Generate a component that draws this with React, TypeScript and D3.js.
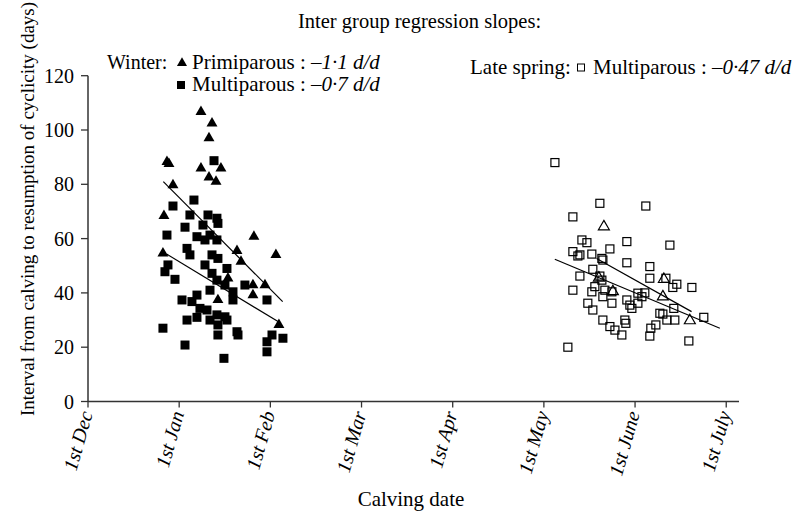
import React from "react";
import * as d3 from "d3";

// Month index: 0 = 1st Dec, 1 = 1st Jan, ... 7 = 1st July
const monthLabels = ["1st Dec", "1st Jan", "1st Feb", "1st Mar", "1st Apr", "1st May", "1st June", "1st July"];
const dayTicks = [0, 20, 40, 60, 80, 100, 120];

// Winter calving, primiparous cows: [month index, days to resumption]
const winterPrimiparous: [number, number][] = [
  [0.866, 88.3], [0.888, 87.5], [0.932, 79.7], [0.833, 68.4], [0.822, 54.6],
  [1.239, 106.7], [1.36, 102.5], [1.327, 97], [1.239, 85.9], [1.458, 85.9],
  [1.327, 82.6], [1.404, 81], [1.82, 60.7], [1.634, 55.5], [2.061, 54],
  [1.678, 51.5], [1.535, 45.4], [1.809, 42.9], [1.941, 42.9], [1.809, 39.2],
  [1.425, 37.4], [2.094, 28.2],
];

// Winter calving, multiparous cows
const winterMultiparous: [number, number][] = [
  [1.382, 88.7], [1.162, 74.2], [0.932, 72], [1.118, 68.7], [1.316, 68.7],
  [1.414, 67.5], [1.425, 65.6], [1.064, 64.2], [1.261, 65], [0.866, 61.3],
  [1.195, 60.7], [1.338, 61.3], [1.283, 59.5], [1.414, 59.5], [1.086, 56.4],
  [1.118, 54], [1.36, 54], [1.425, 52.7], [0.877, 50.3], [1.283, 50.3],
  [1.524, 49], [0.844, 47.8], [1.36, 47.2], [0.954, 45], [1.414, 44.7],
  [1.721, 42.9], [1.502, 42.9], [1.59, 40.4], [1.338, 41], [1.195, 39.2],
  [1.031, 37.4], [1.963, 37.4], [1.14, 36.8], [1.59, 37.4], [1.228, 34.3],
  [1.305, 33.7], [1.414, 31.9], [1.502, 31.2], [1.086, 30], [1.195, 31],
  [1.338, 30], [1.524, 30], [1.425, 28.2], [0.822, 27], [1.634, 25.7],
  [1.645, 24.5], [2.018, 24.5], [2.138, 23.3], [1.963, 22], [1.425, 24.5],
  [1.064, 20.8], [1.963, 18.3], [1.491, 15.9],
];

// Late spring calving, multiparous cows
const springMultiparous: [number, number][] = [
  [5.121, 88], [5.614, 73], [6.118, 72], [5.318, 68], [5.417, 59.5],
  [5.472, 58.5], [5.91, 58.9], [6.382, 57.6], [5.724, 56.2], [5.318, 55.2],
  [5.526, 54.3], [5.373, 53.6], [5.636, 52.7], [5.395, 54], [5.647, 52.1],
  [5.91, 51.1], [6.162, 49.7], [5.537, 48.7], [5.395, 46.2], [5.614, 46.2],
  [5.636, 44.7], [6.162, 45.4], [6.338, 45.4], [6.458, 43.2], [5.559, 42.3],
  [6.414, 42], [6.623, 42], [5.318, 41], [5.526, 40.4], [5.669, 41],
  [5.746, 40.4], [6.107, 40], [6.031, 39.9], [5.647, 38.6], [6.075, 38.6],
  [5.91, 37.4], [6.031, 36.2], [5.482, 36.2], [5.746, 36.2], [5.943, 35.5],
  [5.965, 34.3], [6.425, 34.3], [5.537, 33.7], [6.272, 32.5], [6.305, 32.2],
  [6.754, 31], [5.647, 30], [5.888, 30], [6.349, 30], [6.436, 30],
  [5.899, 28.8], [6.228, 28.2], [5.724, 27.6], [6.173, 27], [5.779, 26.3],
  [5.855, 24.5], [6.162, 24.1], [6.59, 22.3], [5.263, 20],
];

// Late spring calving, primiparous cows
const springPrimiparous: [number, number][] = [
  [5.658, 64.4], [6.316, 45], [5.603, 45.5], [5.757, 40.5], [6.305, 38.6], [6.601, 29.8],
];

// Fitted regression segments: [start, end]
const fitWinterPrimiparous: [number, number][] = [[0.826, 81], [2.135, 36.8]];
const fitWinterMultiparous: [number, number][] = [[0.862, 54.3], [2.116, 28.8]];
const fitSpringMultiparous: [number, number][] = [[5.12, 52.4], [6.93, 27]];
const fitSpringPrimiparous: [number, number][] = [[5.578, 52.7], [6.62, 33.1]];

const W = 797;
const H = 515;
const FONT = "'Liberation Serif', 'Times New Roman', serif";

const x = d3.scaleLinear().domain([0, 7.14]).range([88, 739]);
const y = d3.scaleLinear().domain([0, 120]).range([401.5, 75.7]);

const line = d3
  .line<[number, number]>()
  .x((d) => x(d[0]))
  .y((d) => y(d[1]));

const triPath = d3.symbol(d3.symbolTriangle, 52)() as string;
const triPathSmall = d3.symbol(d3.symbolTriangle, 44)() as string;

export default function App() {
  const axisColor = "#333";
  return (
    <div style={{ position: "absolute", left: 0, top: 0 }}>
      <svg width={W} height={H} viewBox={`0 0 ${W} ${H}`} style={{ display: "block", background: "#fff" }}>
        <rect width={W} height={H} fill="#fff" />

        {/* header and legends */}
        <text x={298} y={28} fontFamily={FONT} fontSize={20.5}>
          Inter group regression slopes:
        </text>
        <text x={107} y={69} fontFamily={FONT} fontSize={20}>
          Winter:
        </text>
        <path d={triPathSmall} transform="translate(182,63)" fill="#000" />
        <text x={192} y={69} fontFamily={FONT} fontSize={21}>
          Primiparous : <tspan fontStyle="italic">–1·1 d/d</tspan>
        </text>
        <rect x={177} y={81} width={8} height={8} fill="#000" />
        <text x={192} y={91} fontFamily={FONT} fontSize={21}>
          Multiparous : <tspan fontStyle="italic">–0·7 d/d</tspan>
        </text>
        <text x={470} y={74} fontFamily={FONT} fontSize={21}>
          Late spring:
        </text>
        <rect x={577.5} y={64} width={7} height={7} fill="none" stroke="#000" strokeWidth={1} />
        <text x={593} y={74} fontFamily={FONT} fontSize={21}>
          Multiparous : <tspan fontStyle="italic">–0·47 d/d</tspan>
        </text>

        {/* y axis */}
        <line x1={x(0)} x2={x(0)} y1={y(0)} y2={y(120)} stroke={axisColor} strokeWidth={1.5} />
        {dayTicks.map((t) => (
          <g key={t}>
            <line x1={x(0) - 7} x2={x(0)} y1={y(t)} y2={y(t)} stroke={axisColor} strokeWidth={1.3} />
            <text
              x={x(0) - 14}
              y={y(t)}
              textAnchor="end"
              dominantBaseline="central"
              fontFamily={FONT}
              fontSize={20}
            >
              {t}
            </text>
          </g>
        ))}
        <text
          transform={`translate(34,209) rotate(-90)`}
          textAnchor="middle"
          fontFamily={FONT}
          fontSize={19}
        >
          Interval from calving to resumption of cyclicity (days)
        </text>

        {/* x axis */}
        <line x1={x(0)} x2={x(7.14)} y1={y(0)} y2={y(0)} stroke={axisColor} strokeWidth={1.5} />
        {monthLabels.map((m, i) => (
          <g key={m}>
            <line x1={x(i)} x2={x(i)} y1={y(0)} y2={y(0) + 6} stroke={axisColor} strokeWidth={1.3} />
            <text
              transform={`translate(${x(i) + 5},${y(0) + 12}) rotate(-74)`}
              textAnchor="end"
              fontFamily={FONT}
              fontStyle="italic"
              fontSize={20}
            >
              {m}
            </text>
          </g>
        ))}
        <text x={411} y={506} textAnchor="middle" fontFamily={FONT} fontSize={21}>
          Calving date
        </text>

        {/* winter points */}
        {winterMultiparous.map((d, i) => (
          <rect key={`wm${i}`} x={x(d[0]) - 4.5} y={y(d[1]) - 4.5} width={9} height={9} fill="#000" />
        ))}
        {winterPrimiparous.map((d, i) => (
          <path key={`wp${i}`} d={triPath} transform={`translate(${x(d[0])},${y(d[1])})`} fill="#000" />
        ))}

        {/* late spring points */}
        {springMultiparous.map((d, i) => (
          <rect
            key={`sm${i}`}
            x={x(d[0]) - 4}
            y={y(d[1]) - 4}
            width={8}
            height={8}
            fill="none"
            stroke="#000"
            strokeWidth={1.2}
          />
        ))}
        {springPrimiparous.map((d, i) => (
          <path
            key={`sp${i}`}
            d={triPath}
            transform={`translate(${x(d[0])},${y(d[1])})`}
            fill="none"
            stroke="#000"
            strokeWidth={1.2}
          />
        ))}

        {/* regression lines */}
        {[fitWinterPrimiparous, fitWinterMultiparous, fitSpringMultiparous, fitSpringPrimiparous].map((seg, i) => (
          <path key={`fit${i}`} d={line(seg) as string} fill="none" stroke="#000" strokeWidth={1.2} />
        ))}
      </svg>
    </div>
  );
}
